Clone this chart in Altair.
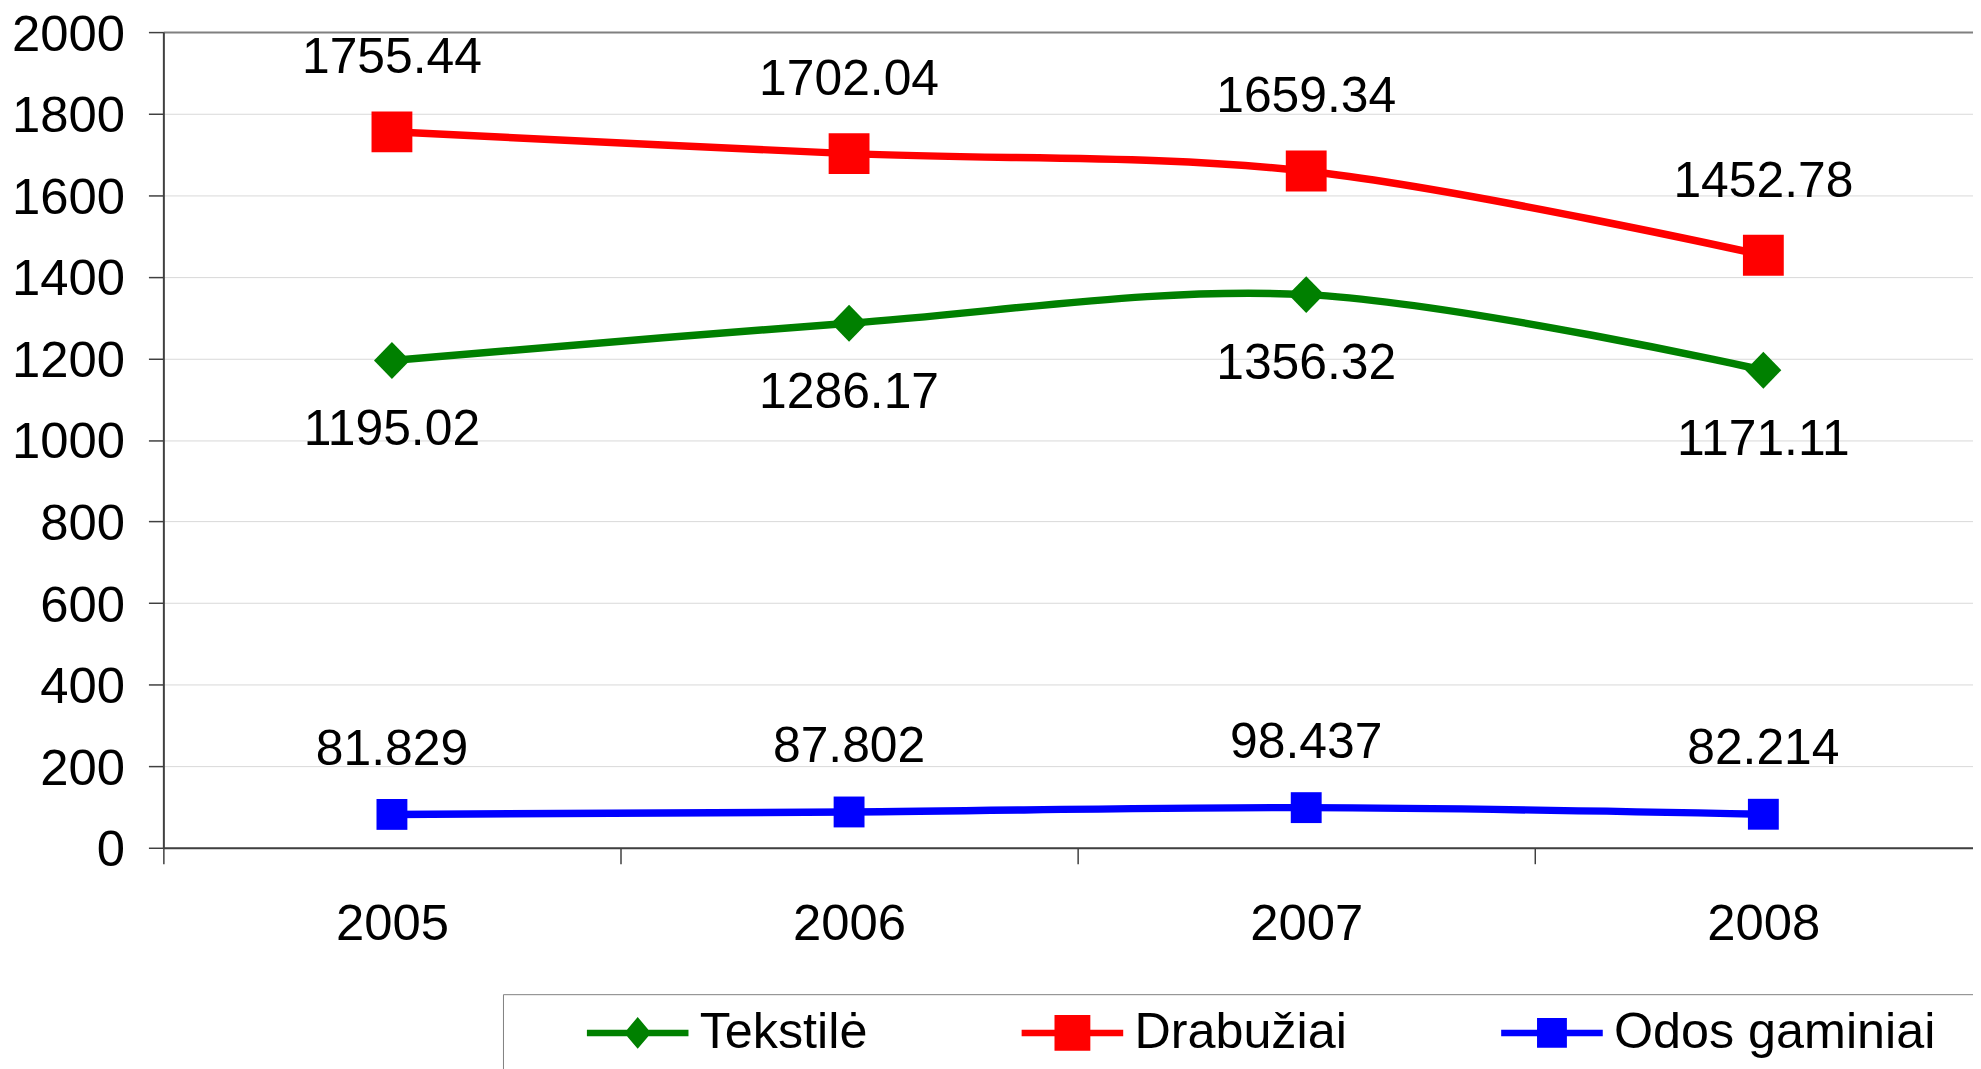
import altair as alt
import pandas as pd

years = ["2005", "2006", "2007", "2008"]
series_names = ["Tekstilė", "Drabužiai", "Odos gaminiai"]
tekstile = [1195.02, 1286.17, 1356.32, 1171.11]
drabuziai = [1755.44, 1702.04, 1659.34, 1452.78]
odos = [81.829, 87.802, 98.437, 82.214]
colors = ["#008000", "#ff0000", "#0000ff"]
y_ticks = [0, 200, 400, 600, 800, 1000, 1200, 1400, 1600, 1800, 2000]

rows = []
for name, vals in zip(series_names, [tekstile, drabuziai, odos]):
    for yr, v in zip(years, vals):
        rows.append({"year": yr, "series": name, "value": v, "label": str(v)})
df = pd.DataFrame(rows)

FONT = "Liberation Sans"
AXFS = 51
LBFS = 50
LGFS = 50.5
AX = "#404040"

# legend symbols: line + marker (custom paths)
legend_paths = [
    "M2.395,-0.171H7.763V0.171H2.395Z M5.079,-0.842L5.789,0L5.079,0.842L4.369,0Z",
    "M2.395,-0.171H7.763V0.171H2.395Z M4.132,-0.947H6.026V0.947H4.132Z",
    "M2.395,-0.171H7.763V0.171H2.395Z M4.290,-0.789H5.868V0.789H4.290Z",
]
diamond_path = "M0,-1.03L1,0L0,1.03L-1,0Z"

color_scale = alt.Scale(domain=series_names, range=colors)

x_enc = alt.X(
    "year:N",
    sort=years,
    scale=alt.Scale(type="band", paddingInner=0, paddingOuter=0, range=[0, 1836]),
    axis=alt.Axis(
        title=None, labelAngle=0, tickBand="extent", tickSize=16, tickWidth=1.5,
        tickColor=AX, domainColor=AX, domainWidth=2, labelFontSize=AXFS,
        labelFont=FONT, labelColor="black", labelPadding=61,
        labelBaseline="middle", grid=False,
    ),
)
y_enc = alt.Y(
    "value:Q",
    scale=alt.Scale(domain=[0, 2000], nice=False),
    axis=alt.Axis(
        title=None, values=y_ticks, format="d", tickSize=15, tickWidth=1.5, tickColor=AX,
        domainColor=AX, domainWidth=2, labelFontSize=AXFS, labelFont=FONT,
        labelColor="black", labelPadding=24, labelOffset=3, grid=True,
        gridColor=alt.condition("datum.value == 2000", alt.value("#808080"), alt.value("#d9d9d9")),
        gridWidth=alt.condition("datum.value == 2000", alt.value(2), alt.value(1)),
    ),
)
color_nolegend = alt.Color("series:N", scale=color_scale, legend=None)

base = alt.Chart(df)

line = base.mark_line(interpolate="catmull-rom", strokeWidth=7.5).encode(
    x=x_enc, y=y_enc, color=color_nolegend
)

marker_specs = [("Tekstilė", diamond_path, 1300), ("Drabužiai", "square", 1681), ("Odos gaminiai", "square", 961)]
points = [
    base.transform_filter(alt.datum.series == name)
    .mark_point(filled=True, shape=shape, size=size, opacity=1)
    .encode(x=x_enc, y=y_enc, color=color_nolegend)
    for name, shape, size in marker_specs
]

label_dy = [("Tekstilė", 70), ("Drabužiai", -74), ("Odos gaminiai", -65)]
texts = [
    base.transform_filter(alt.datum.series == name)
    .mark_text(font=FONT, fontSize=LBFS, color="black", align="center", baseline="middle", dy=dy)
    .encode(x=x_enc, y=y_enc, text="label:N")
    for name, dy in label_dy
]

leg = alt.Legend(
    orient="none", legendX=341, legendY=966, direction="horizontal", columns=3,
    title="\u00a0", titleOrient="right", titlePadding=80, titleFontSize=10,
    labelFont=FONT, labelFontSize=LGFS, labelColor="black", labelBaseline="middle",
    symbolSize=1444, symbolStrokeWidth=0, symbolOpacity=1, labelOffset=133.5,
    columnPadding=83.5, padding=13.5, strokeColor="#808080", fillColor="white",
    labelLimit=0,
)
legend_layer = (
    base.mark_point(filled=True, opacity=0)
    .encode(
        x=x_enc, y=y_enc,
        color=alt.Color("series:N", scale=color_scale, legend=leg),
        shape=alt.Shape("series:N", scale=alt.Scale(domain=series_names, range=legend_paths), legend=leg),
    )
)

chart = (
    alt.layer(line, *points, *texts, legend_layer)
    .resolve_legend(color="independent", shape="independent")
    .properties(
        width=1817, height=819,
        autosize=alt.AutoSizeParams(type="none"),
        padding={"left": 156, "top": 22, "right": 0, "bottom": 240},
    )
    .configure_view(strokeWidth=0)
    .configure(font=FONT)
)

chart.save("out.html", embed_options={"renderer": "svg", "actions": False})
